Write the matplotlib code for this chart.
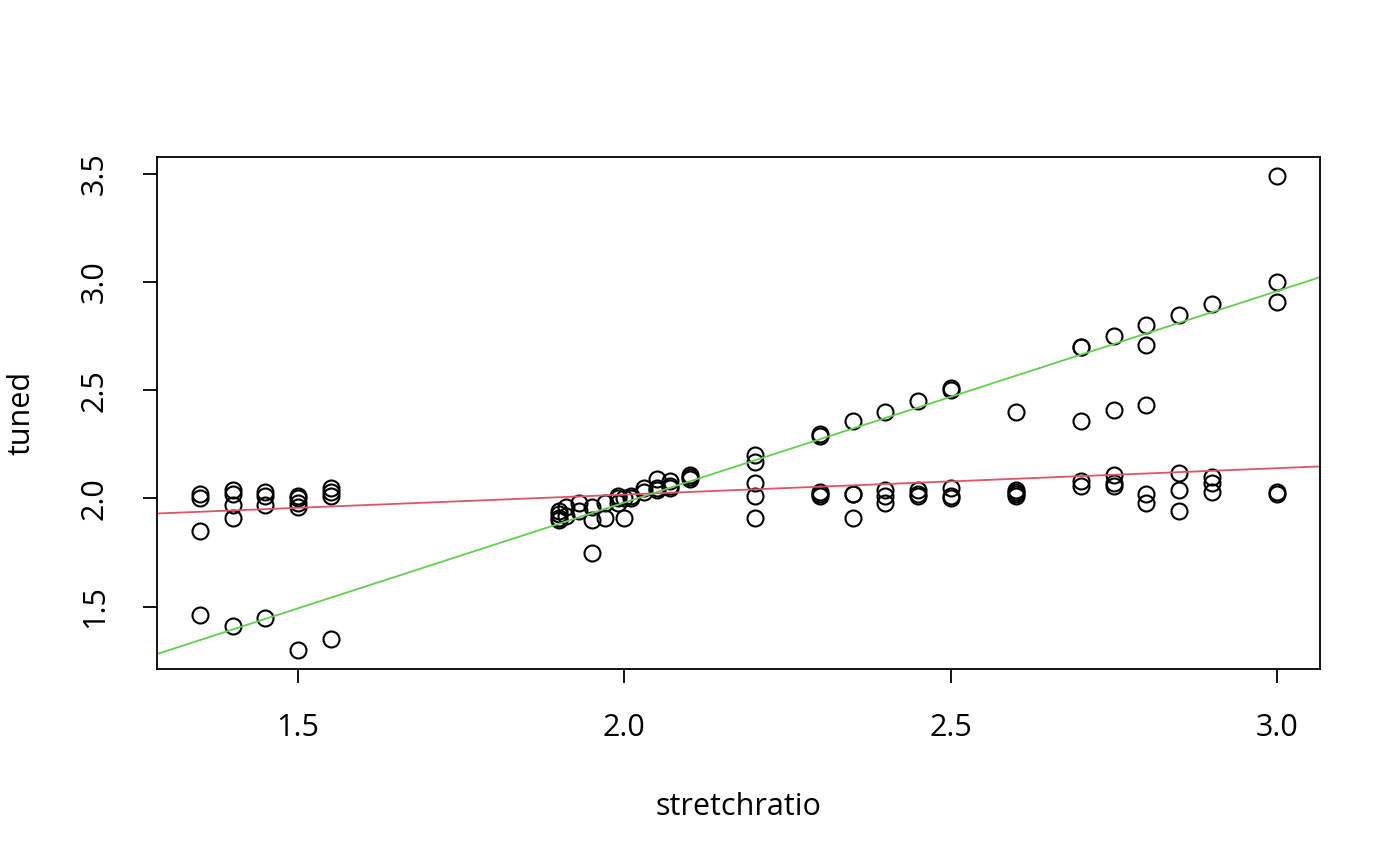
import matplotlib
matplotlib.use("Agg")
import matplotlib.pyplot as plt
import numpy as np

plt.rcParams['font.family'] = ['Open Sans', 'DejaVu Sans']

# stretchratio groups and the tuned values observed at each
x_groups = [1.35, 1.40, 1.45, 1.50, 1.55, 1.90, 1.91, 1.93, 1.95, 1.97, 1.99, 2.00,
            2.01, 2.03, 2.05, 2.07, 2.10, 2.20, 2.30, 2.35, 2.40, 2.45, 2.50, 2.60,
            2.70, 2.75, 2.80, 2.85, 2.90, 3.00]
tuned_groups = [
    [2.02, 2.00, 1.85, 1.46],
    [2.04, 2.02, 1.97, 1.91, 1.41],
    [2.03, 2.01, 1.97, 1.45],
    [2.01, 2.00, 1.98, 1.96, 1.30],
    [2.05, 2.03, 2.01, 1.35],
    [1.94, 1.93, 1.91, 1.90],
    [1.96, 1.92],
    [1.98, 1.94],
    [1.96, 1.90, 1.75],
    [1.98, 1.91],
    [2.01, 2.00, 1.98],
    [2.00, 1.91],
    [2.01, 2.00],
    [2.05, 2.03],
    [2.09, 2.05, 2.04],
    [2.08, 2.06, 2.05],
    [2.11, 2.10, 2.09],
    [2.20, 2.17, 2.07, 2.01, 1.91],
    [2.30, 2.29, 2.03, 2.02, 2.01],
    [2.36, 2.02, 2.02, 1.91],
    [2.40, 2.04, 2.01, 1.98],
    [2.45, 2.04, 2.02, 2.01],
    [2.51, 2.50, 2.05, 2.01, 2.00],
    [2.40, 2.04, 2.03, 2.02, 2.01],
    [2.70, 2.70, 2.36, 2.08, 2.06],
    [2.75, 2.41, 2.11, 2.07, 2.06],
    [2.80, 2.71, 2.43, 2.02, 1.98],
    [2.85, 2.12, 2.04, 1.94],
    [2.90, 2.10, 2.07, 2.03],
    [3.49, 3.00, 2.91, 2.03, 2.02],
]

# fitted lines (intercept, slope)
line_intercepts = [1.774, 0.027]
line_slopes = [0.122, 0.977]
line_colors = ['#DF536B', '#61D04F']

xs = []
ys = []
for xv, vals in zip(x_groups, tuned_groups):
    for v in vals:
        xs.append(xv)
        ys.append(v)
xs = np.array(xs)
ys = np.array(ys)

fig = plt.figure(figsize=(14, 8.66), dpi=100)
ax = fig.add_axes([0.1121, 0.2275, 0.8308, 0.5912])

ax.plot(xs, ys, linestyle='none', marker='o', markersize=11.5,
        markerfacecolor='none', markeredgecolor='black', markeredgewidth=1.5)

xr = xs.max() - xs.min()
yr = ys.max() - ys.min()
ax.set_xlim(xs.min() - 0.04 * xr, xs.max() + 0.04 * xr)
ax.set_ylim(ys.min() - 0.04 * yr, ys.max() + 0.04 * yr)

for a, b, c in zip(line_intercepts, line_slopes, line_colors):
    ax.axline((0, a), slope=b, color=c, linewidth=1.3)

ax.set_xticks([1.5, 2.0, 2.5, 3.0])
ax.set_xticklabels(['1.5', '2.0', '2.5', '3.0'])
ax.set_yticks([1.5, 2.0, 2.5, 3.0, 3.5])
ax.set_yticklabels(['1.5', '2.0', '2.5', '3.0', '3.5'], rotation=90, va='center')
ax.tick_params(axis='both', direction='out', length=10, width=1.3, labelsize=22)
ax.tick_params(axis='x', pad=22)
ax.tick_params(axis='y', pad=24)
for s in ax.spines.values():
    s.set_linewidth(1.3)

ax.set_xlabel('stretchratio', fontsize=22, labelpad=35)
ax.set_ylabel('tuned', fontsize=22, labelpad=31)

fig.savefig('out.png', dpi=100)
